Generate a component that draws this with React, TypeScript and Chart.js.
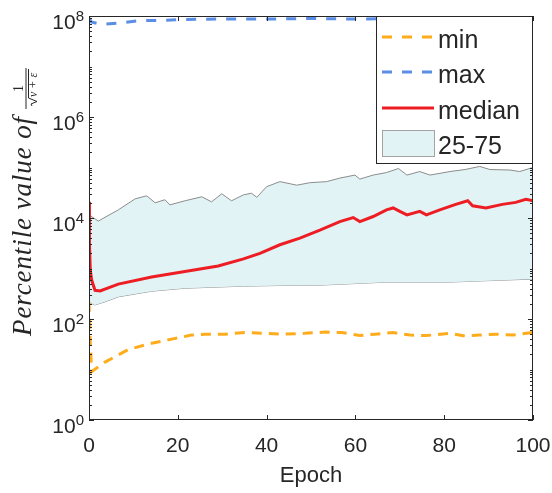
import { useEffect, useRef } from "react";
import { Chart, registerables } from "chart.js";

Chart.register(...registerables);

const WIDTH = 552;
const HEIGHT = 493;

const AXIS_COLOR = "#262626";
const BAND_FILL = "#e1f3f4";
const BAND_EDGE = "#8c8c8c";
const MEDIAN_COLOR = "#ee1d23";
const MIN_COLOR = "#ffac1c";
const MAX_COLOR = "#5b8fe6";

const xTickValues = [0, 20, 40, 60, 80, 100];
const yTickExponents = [0, 2, 4, 6, 8];
const xTitle = "Epoch";
const yTitle = "Percentile value of";
const legendLabels = ["min", "max", "median", "25-75"];

// 75th percentile
const p75Epochs = [0, 2.1, 6.6, 10.4, 13, 14.9, 17.1, 18.2, 21.6, 25.4, 27.6, 29.9, 32.1, 34.8, 36.6, 37.8, 40, 43, 46.8, 49.8, 53.5, 56.5, 59.9, 61, 64, 67, 69.7, 71.6, 74.5, 76.8, 81.3, 84.7, 88, 90.3, 94.8, 97, 100];
const p75Values = [11500, 8700, 14500, 24000, 27500, 20000, 23000, 18200, 21900, 26300, 20900, 30200, 21900, 28800, 30900, 25700, 41700, 52500, 44700, 50100, 52500, 61700, 70800, 58900, 70800, 79400, 95500, 70800, 83200, 70800, 83200, 91200, 105000, 91200, 89100, 83200, 100000];

// 25th percentile
const p25Epochs = [0, 1.35, 3.6, 6.6, 14.1, 21.6, 34.8, 47.5, 52, 67, 81, 90, 100];
const p25Values = [214, 190, 219, 275, 355, 407, 447, 468, 468, 537, 537, 575, 617];

// median
const medianEpochs = [0, 0.1, 0.3, 0.6, 1.35, 2.5, 6.6, 14.1, 21.6, 29.1, 34.8, 38.5, 43, 47.5, 52, 56.5, 59.5, 61, 64, 67, 68.5, 70, 71.6, 74.5, 76, 79, 82.6, 85.3, 86.4, 89.4, 93.1, 96.1, 98.4, 100];
const medianValues = [21000, 3200, 900, 590, 370, 360, 490, 680, 870, 1120, 1550, 2000, 2950, 4000, 5750, 8500, 10200, 8500, 10700, 14500, 15800, 13500, 11500, 13500, 11500, 14500, 18600, 21900, 17400, 15800, 18600, 20400, 23400, 21900];

// minimum
const minEpochs = [0, 0.3, 0.6, 3.6, 8.9, 14.1, 18.6, 23.1, 26.1, 30.6, 35.1, 39.6, 43.4, 48.6, 53.2, 56.9, 61, 64.4, 68.5, 72.3, 76, 81.3, 84.7, 88, 91.8, 95.5, 100];
const minValues = [220, 32, 9.1, 14, 25, 33, 40, 48, 50, 50, 54, 52, 50, 52, 55, 54, 47, 50, 54, 48, 47, 52, 46, 48, 50, 48, 54];

// maximum
const maxEpochs = [0, 0.5, 2.8, 6.6, 11.5, 15.5, 20, 30, 40, 50, 60, 70, 80, 90, 100];
const maxValues = [9.1e7, 7.6e7, 6.8e7, 7.2e7, 8.1e7, 8.1e7, 8.5e7, 8.7e7, 8.7e7, 8.9e7, 8.7e7, 8.9e7, 9.1e7, 9.1e7, 9.1e7];

function toPoints(xs: number[], ys: number[]) {
  return xs.map((x, i) => ({ x, y: ys[i] }));
}

const decorPlugin = {
  id: "matlabDecor",
  afterDraw(chart: any) {
    const { ctx, chartArea: a, scales } = chart;
    const xs = scales.x;
    const ys = scales.y;
    ctx.save();

    // axes box
    ctx.strokeStyle = AXIS_COLOR;
    ctx.lineWidth = 1;
    ctx.strokeRect(a.left + 0.5, a.top + 0.5, a.right - a.left - 1, a.bottom - a.top - 1);

    // inward ticks on all four sides
    ctx.beginPath();
    for (const t of xTickValues) {
      const px = Math.round(xs.getPixelForValue(t)) + 0.5;
      ctx.moveTo(px, a.bottom);
      ctx.lineTo(px, a.bottom - 5);
      ctx.moveTo(px, a.top);
      ctx.lineTo(px, a.top + 5);
    }
    for (let e = 0; e <= 8; e++) {
      for (let k = 1; k <= 9; k++) {
        if (e === 8 && k > 1) break;
        const py = Math.round(ys.getPixelForValue(k * Math.pow(10, e))) + 0.5;
        const len = k === 1 && e % 2 === 0 ? 5 : 3;
        ctx.moveTo(a.left, py);
        ctx.lineTo(a.left + len, py);
        ctx.moveTo(a.right, py);
        ctx.lineTo(a.right - len, py);
      }
    }
    ctx.stroke();

    // x tick labels
    ctx.fillStyle = AXIS_COLOR;
    ctx.font = '21px "Liberation Sans", Arial, sans-serif';
    ctx.textAlign = "center";
    ctx.textBaseline = "alphabetic";
    for (const t of xTickValues) {
      ctx.fillText(String(t), xs.getPixelForValue(t), 452);
    }

    // y tick labels: 10 with a superscript exponent
    for (const e of yTickExponents) {
      const py = ys.getPixelForValue(Math.pow(10, e));
      const expRight = 84;
      ctx.font = '15px "Liberation Sans", Arial, sans-serif';
      ctx.textAlign = "right";
      const ew = ctx.measureText(String(e)).width;
      ctx.fillText(String(e), expRight, py + 5);
      ctx.font = '21px "Liberation Sans", Arial, sans-serif';
      ctx.fillText("10", expRight - ew, py + 12.5);
    }

    // x title
    ctx.font = '22px "Liberation Sans", Arial, sans-serif';
    ctx.textAlign = "center";
    ctx.fillText(xTitle, (a.left + a.right) / 2, 481.5);

    // y title with the fraction 1 / sqrt(v + eps)
    ctx.save();
    ctx.translate(30.5, 336);
    ctx.rotate(-Math.PI / 2);
    ctx.font = 'italic 27px "Liberation Serif", serif';
    ctx.textAlign = "left";
    (ctx as any).letterSpacing = "0.9px";
    ctx.fillText(yTitle, 0, 0);
    const fx = ctx.measureText(yTitle).width + 7;
    (ctx as any).letterSpacing = "0px";
    const fracLen = 41;
    ctx.strokeStyle = AXIS_COLOR;
    ctx.lineWidth = 1;
    ctx.beginPath();
    ctx.moveTo(fx, -4.5);
    ctx.lineTo(fx + fracLen, -4.5);
    ctx.stroke();
    ctx.font = '14px "Liberation Serif", serif';
    ctx.textAlign = "center";
    ctx.fillText("1", fx + fracLen / 2, -7.5);
    const rx = fx + 3;
    ctx.beginPath();
    ctx.moveTo(rx, 1.5);
    ctx.lineTo(rx + 2, 0.5);
    ctx.lineTo(rx + 4.5, 6.5);
    ctx.lineTo(rx + 8, -2);
    ctx.lineTo(fx + fracLen - 1, -2);
    ctx.stroke();
    ctx.font = 'italic 12px "Liberation Serif", serif';
    ctx.textAlign = "left";
    ctx.fillText("v + ε", rx + 9, 6);
    ctx.restore();

    // legend
    const lx = 376;
    const ly = 16;
    const lw = 156;
    const lh = 147;
    ctx.fillStyle = "#ffffff";
    ctx.fillRect(lx, ly, lw, lh);
    ctx.strokeStyle = AXIS_COLOR;
    ctx.lineWidth = 1;
    ctx.strokeRect(lx + 0.5, ly + 0.5, lw, lh);

    const sx0 = 382;
    const sx1 = 434;
    const rows = [37, 72, 108, 143.5];
    ctx.lineWidth = 3;
    ctx.setLineDash([10, 10]);
    ctx.strokeStyle = MIN_COLOR;
    ctx.beginPath();
    ctx.moveTo(sx0, rows[0]);
    ctx.lineTo(sx1, rows[0]);
    ctx.stroke();
    ctx.strokeStyle = MAX_COLOR;
    ctx.beginPath();
    ctx.moveTo(sx0, rows[1]);
    ctx.lineTo(sx1, rows[1]);
    ctx.stroke();
    ctx.setLineDash([]);
    ctx.strokeStyle = MEDIAN_COLOR;
    ctx.beginPath();
    ctx.moveTo(sx0, rows[2]);
    ctx.lineTo(sx1, rows[2]);
    ctx.stroke();
    ctx.fillStyle = BAND_FILL;
    ctx.fillRect(sx0, 130, sx1 - sx0, 27);
    ctx.strokeStyle = "#a3a3a3";
    ctx.lineWidth = 1;
    ctx.strokeRect(sx0 + 0.5, 130.5, sx1 - sx0, 26);

    ctx.fillStyle = AXIS_COLOR;
    ctx.font = '25px "Liberation Sans", Arial, sans-serif';
    ctx.textAlign = "left";
    legendLabels.forEach((label, i) => {
      ctx.fillText(label, 438, rows[i] + 10.5);
    });

    ctx.restore();
  },
};

export default function App() {
  const canvasRef = useRef<HTMLCanvasElement | null>(null);

  useEffect(() => {
    const canvas = canvasRef.current;
    if (!canvas) return;
    const chart = new Chart(canvas, {
      type: "line",
      data: {
        datasets: [
          {
            label: "median",
            data: toPoints(medianEpochs, medianValues),
            borderColor: MEDIAN_COLOR,
            borderWidth: 3,
            pointRadius: 0,
            fill: false,
            order: 0,
          },
          {
            label: "min",
            data: toPoints(minEpochs, minValues),
            borderColor: MIN_COLOR,
            borderWidth: 3,
            borderDash: [10, 7],
            pointRadius: 0,
            fill: false,
            order: 1,
          },
          {
            label: "max",
            data: toPoints(maxEpochs, maxValues),
            borderColor: MAX_COLOR,
            borderWidth: 3,
            borderDash: [10, 10],
            pointRadius: 0,
            fill: false,
            order: 1,
          },
          {
            label: "75",
            data: toPoints(p75Epochs, p75Values),
            borderColor: BAND_EDGE,
            borderWidth: 1,
            backgroundColor: BAND_FILL,
            pointRadius: 0,
            fill: "+1",
            order: 2,
          },
          {
            label: "25",
            data: toPoints(p25Epochs, p25Values),
            borderColor: BAND_EDGE,
            borderWidth: 1,
            pointRadius: 0,
            fill: false,
            order: 2,
          },
        ],
      },
      options: {
        animation: false,
        responsive: false,
        maintainAspectRatio: false,
        layout: { padding: { left: 89, right: 19, top: 16, bottom: 73 } },
        scales: {
          x: { type: "linear", min: 0, max: 100, display: false },
          y: { type: "logarithmic", min: 1, max: 1e8, display: false },
        },
        plugins: {
          legend: { display: false },
          tooltip: { enabled: false },
        },
      },
      plugins: [decorPlugin],
    });
    return () => chart.destroy();
  }, []);

  return (
    <div style={{ position: "absolute", left: 0, top: 0, width: WIDTH, height: HEIGHT, background: "#fff" }}>
      <canvas ref={canvasRef} width={WIDTH} height={HEIGHT} />
    </div>
  );
}
